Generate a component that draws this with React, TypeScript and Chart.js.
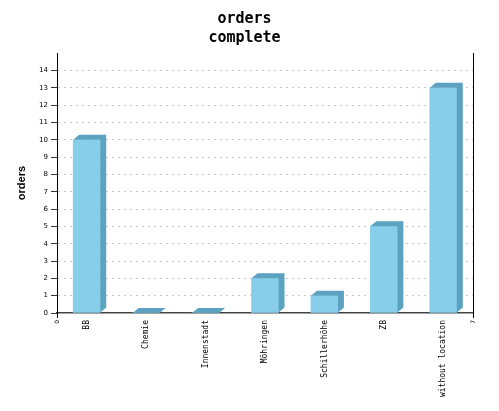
import React, { useEffect, useRef } from 'react';
import { Chart, registerables } from 'chart.js';

Chart.register(...registerables);

const titleLines = ['orders', 'complete'];
const yAxisTitle = 'orders';
const categories = ['BB', 'Chemie', 'Innenstadt', 'Möhringen', 'Schillerhöhe', 'ZB', 'without location'];
const orders = [10, 0, 0, 2, 1, 5, 13];
const yTickValues = [0, 1, 2, 3, 4, 5, 6, 7, 8, 9, 10, 11, 12, 13, 14];
const xEndTicks = [0, 7];

const FRONT = '#87CEEB';
const DEPTH = '#5BA3C0';
const DX = 6;
const DY = 5;

const bar3d = {
  id: 'bar3d',
  afterDatasetsDraw(chart: any) {
    const ctx = chart.ctx;
    const meta = chart.getDatasetMeta(0);
    meta.data.forEach((el: any) => {
      const { x, y, base, width } = el.getProps(['x', 'y', 'base', 'width'], true);
      const l = x - width / 2;
      const r = x + width / 2;
      ctx.save();
      ctx.fillStyle = DEPTH;
      ctx.beginPath();
      ctx.moveTo(l, y);
      ctx.lineTo(l + DX, y - DY);
      ctx.lineTo(r + DX, y - DY);
      ctx.lineTo(r + DX, base - DY);
      ctx.lineTo(r, base);
      ctx.lineTo(r, y);
      ctx.closePath();
      ctx.fill();
      ctx.restore();
    });
  },
};

export default function App() {
  const ref = useRef<HTMLCanvasElement | null>(null);

  useEffect(() => {
    if (!ref.current) return;
    const points = orders.map((v, i) => ({ x: i + 0.5, y: v }));
    const chart = new Chart(ref.current, {
      type: 'bar',
      data: {
        datasets: [
          {
            data: points as any,
            backgroundColor: FRONT,
            borderWidth: 0,
            barThickness: 27,
          },
        ],
      },
      plugins: [bar3d],
      options: {
        animation: false,
        responsive: false,
        devicePixelRatio: 1,
        layout: { padding: { left: 0, top: 0, bottom: 0, right: 10 } },
        plugins: {
          legend: { display: false },
          tooltip: { enabled: false },
          title: {
            display: true,
            text: titleLines,
            color: '#000',
            font: { family: 'DejaVu Sans Mono', size: 15, weight: 'bold', lineHeight: 1.27 },
            padding: { top: 10, bottom: 5 },
          },
        },
        scales: {
          x: {
            type: 'linear',
            min: 0,
            max: 7,
            offset: false,
            afterBuildTicks: (scale: any) => {
              const vals = [xEndTicks[0], ...categories.map((_, i) => i + 0.5), xEndTicks[1]];
              scale.ticks = vals.map((v) => ({ value: v }));
            },
            afterFit: (scale: any) => {
              scale.height = 98;
            },
            ticks: {
              autoSkip: false,
              maxRotation: 90,
              minRotation: 90,
              padding: 2,
              color: '#000',
              font: (c: any) =>
                c.tick && xEndTicks.includes(c.tick.value)
                  ? { family: 'DejaVu Sans', size: 6 }
                  : { family: 'DejaVu Sans Mono', size: 8 },
              callback: (value: any) => {
                const v = Number(value);
                if (xEndTicks.includes(v)) return String(v);
                return categories[Math.round(v - 0.5)];
              },
            },
            grid: {
              display: true,
              offset: false,
              drawOnChartArea: false,
              tickLength: 5,
              tickColor: (c: any) => (c.tick && xEndTicks.includes(c.tick.value) ? '#000' : 'rgba(0,0,0,0)'),
            },
            border: { display: true, color: '#444', width: 1.5 },
          },
          y: {
            type: 'linear',
            position: 'left',
            min: 0,
            max: 15,
            afterBuildTicks: (scale: any) => {
              scale.ticks = yTickValues.map((v) => ({ value: v }));
            },
            afterFit: (scale: any) => {
              scale.width = 57;
            },
            ticks: {
              padding: 3,
              color: '#000',
              font: { family: 'DejaVu Sans', size: 7 },
              callback: (value: any) => String(value),
            },
            grid: {
              display: true,
              color: (c: any) => (c.tick && c.tick.value === 0 ? 'rgba(0,0,0,0)' : '#c8c8c8'),
              lineWidth: 1,
              tickLength: 6,
              tickColor: '#333',
            },
            border: { display: true, color: '#000', width: 1, dash: [2, 4] },
            title: {
              display: true,
              text: yAxisTitle,
              color: '#000',
              font: { family: 'Liberation Sans', size: 11, weight: 'bold' },
              padding: { top: 15, bottom: 0 },
            },
          },
          y2: {
            type: 'linear',
            position: 'right',
            min: 0,
            max: 15,
            afterFit: (scale: any) => {
              scale.width = 16;
            },
            ticks: { display: false },
            grid: { display: false, drawTicks: false },
            border: { display: true, color: '#000', width: 1 },
          },
        },
      } as any,
    });
    return () => chart.destroy();
  }, []);

  return (
    <div style={{ position: 'fixed', left: 0, top: 0, width: 499, height: 411, background: '#fff' }}>
      <canvas ref={ref} width={499} height={411} />
    </div>
  );
}
